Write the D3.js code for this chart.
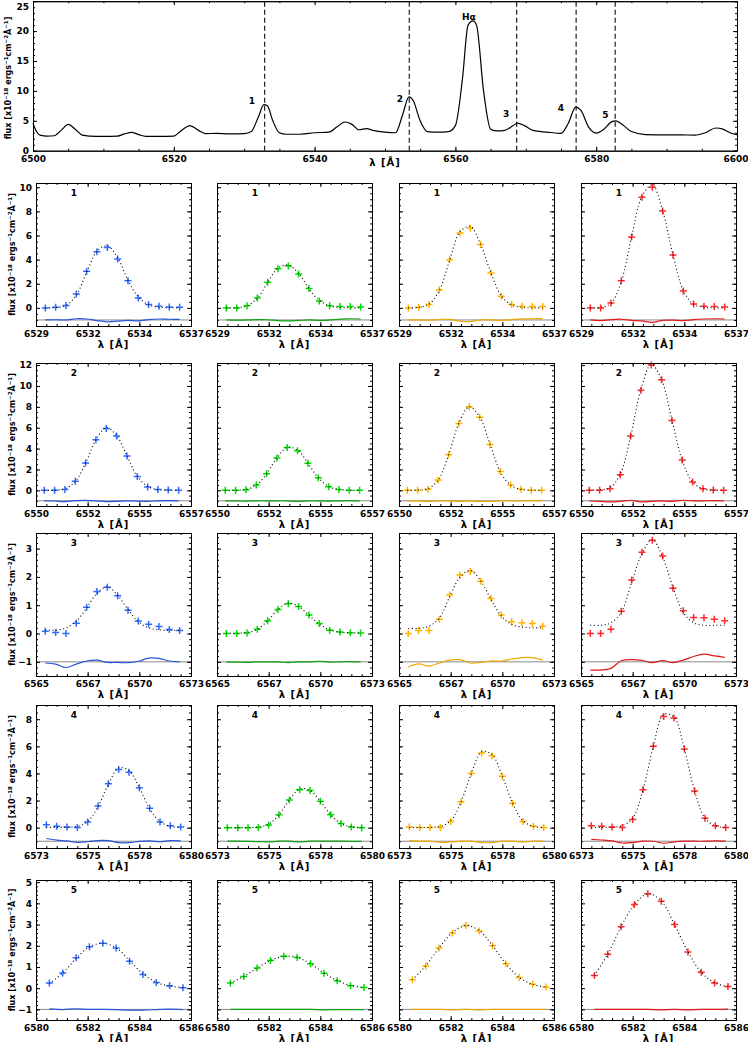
<!DOCTYPE html>
<html>
<head>
<meta charset="utf-8">
<script src="https://cdn.jsdelivr.net/npm/d3@7"></script>
<style>
body { margin: 0; background: #fff; }
text { font-family: "DejaVu Sans", sans-serif; font-weight: bold; font-size: 9px; fill: #000; }
.axis path, .axis line { stroke: #000; stroke-width: 1; }
</style>
</head>
<body>
<script>
// ---- full spectrum (top panel) ----
var specWave = [6500, 6500.5, 6501, 6502, 6503, 6504, 6505, 6506, 6507, 6508, 6510, 6512, 6513, 6514, 6515, 6516,
  6518, 6520, 6521, 6522.3, 6523.5, 6524.5, 6526, 6528, 6530, 6531, 6532, 6532.8, 6533.3, 6534, 6535, 6536,
  6538, 6540, 6542, 6543.2, 6544.3, 6545.3, 6546.3, 6547.4, 6548.3, 6550, 6551.5, 6552.5, 6553.4, 6554, 6555,
  6556, 6557.5, 6559, 6560, 6561, 6561.8, 6562.5, 6563, 6564, 6565, 6566, 6567, 6568.2, 6568.8, 6569.8, 6571,
  6573, 6575, 6576, 6577.1, 6577.8, 6579, 6580, 6581, 6582.3, 6582.8, 6583.8, 6585, 6587, 6590, 6592, 6594,
  6595.5, 6597, 6598, 6599, 6600];
var specFlux = [4.6, 3.2, 2.6, 2.45, 2.5, 3.4, 4.4, 3.6, 2.6, 2.45, 2.4, 2.45, 2.8, 3.05, 2.7, 2.4,
  2.4, 2.45, 3.3, 4.2, 3.4, 2.85, 2.9, 2.8, 2.85, 3.2, 5.6, 7.7, 7.5, 5.2, 3.0, 2.75,
  2.75, 3.0, 3.1, 4.0, 4.8, 4.4, 3.5, 3.7, 3.4, 3.1, 3.0, 6.0, 9.0, 8.4, 5.0,
  3.2, 3.1, 3.2, 4.2, 12.0, 21.0, 21.7, 21.0, 10.0, 3.6, 3.3, 3.4, 4.2, 4.6, 4.2, 3.4,
  3.1, 2.9, 4.5, 7.3, 6.8, 3.8, 2.95, 3.5, 4.9, 5.0, 4.3, 3.2, 2.7, 2.65, 2.65, 2.6,
  3.0, 3.8, 3.6, 3.0, 2.7];
var markWave = [6532.9, 6553.45, 6568.7, 6577.15, 6582.7];
var markNames = ["1", "2", "H\u03b1", "3", "4", "5"];
var markLabelWave = [6531.1, 6552.1, 6561.9, 6567.2, 6575.0, 6581.3];
var markLabelFlux = [8.3, 8.6, 22.3, 6.1, 7.1, 6.0];

// ---- line 1 ----
var line1Wave = [6529.75, 6530.25, 6530.75, 6531.25, 6531.75, 6532.25, 6532.75, 6533.25, 6533.75, 6534.25, 6534.75, 6535.25, 6535.75, 6536.25];
var line1Flux = [
  [0, 0.05, 0.2, 1.15, 3.03, 4.65, 5.0, 4.05, 2.26, 0.83, 0.28, 0.14, 0.08, 0.05],
  [0, 0, 0.17, 0.83, 2.12, 3.25, 3.47, 2.81, 1.6, 0.58, 0.17, 0.11, 0.11, 0.08],
  [0, 0.05, 0.28, 1.49, 4.0, 6.2, 6.61, 5.26, 2.9, 0.96, 0.28, 0.14, 0.11, 0.11],
  [0, 0, 0.41, 2.26, 5.87, 9.17, 10.0, 8.02, 4.38, 1.4, 0.33, 0.14, 0.11, 0.08]];
var line1Fit = [
  [0, 0.03, 0.2, 1.05, 2.95, 4.7, 5.15, 4.15, 2.3, 0.9, 0.25, 0.06, 0.02, 0],
  [0, 0.02, 0.17, 0.8, 2.1, 3.3, 3.55, 2.85, 1.6, 0.62, 0.17, 0.04, 0.01, 0],
  [0, 0.04, 0.3, 1.45, 3.95, 6.3, 6.75, 5.25, 2.9, 1.0, 0.25, 0.05, 0.01, 0],
  [0, 0.05, 0.38, 2.2, 5.9, 9.25, 10.2, 8.05, 4.4, 1.45, 0.3, 0.06, 0.01, 0]];
var line1XRange = [6529.3, 6536.8];
var line1XLabels = ["6529", "6532", "6534", "6537"];
var line1YRange = [-1.5, 10.35];
var line1YTicks = [0, 2, 4, 6, 8, 10];

// ---- line 2 ----
var line2Wave = [6550.3, 6550.8, 6551.3, 6551.8, 6552.3, 6552.8, 6553.3, 6553.8, 6554.3, 6554.8, 6555.3, 6555.8, 6556.3, 6556.8];
var line2Flux = [
  [0, 0, 0.07, 0.86, 2.63, 4.84, 5.92, 5.2, 3.29, 1.32, 0.33, 0.07, 0.03, 0],
  [0, 0, 0.05, 0.5, 1.6, 3.1, 4.1, 3.8, 2.6, 1.2, 0.35, 0.08, 0.02, 0],
  [0, 0, 0.1, 1.0, 3.4, 6.4, 8.0, 7.0, 4.4, 1.8, 0.5, 0.1, 0.02, 0],
  [0, 0, 0.15, 1.5, 5.2, 9.6, 12.0, 10.6, 6.7, 2.9, 0.8, 0.15, 0.03, 0]];
var line2Fit = [
  [0, 0.02, 0.15, 0.85, 2.6, 4.85, 6.0, 5.25, 3.3, 1.35, 0.38, 0.07, 0.01, 0],
  [0, 0.01, 0.08, 0.5, 1.6, 3.1, 4.1, 3.85, 2.6, 1.2, 0.38, 0.08, 0.01, 0],
  [0, 0.02, 0.15, 1.0, 3.4, 6.45, 8.0, 7.05, 4.45, 1.8, 0.5, 0.1, 0.01, 0],
  [0.02, 0.05, 0.25, 1.55, 5.15, 9.7, 12.05, 10.6, 6.75, 2.85, 0.8, 0.15, 0.02, 0]];
var line2XRange = [6549.9, 6557.4];
var line2XLabels = ["6550", "6552", "6555", "6557"];
var line2YRange = [-1.5, 12.2];
var line2YTicks = [0, 2, 4, 6, 8, 10, 12];

// ---- line 3 ----
var line3Wave = [6565.55, 6566.05, 6566.55, 6567.05, 6567.55, 6568.05, 6568.55, 6569.05, 6569.55, 6570.05, 6570.55, 6571.05, 6571.55, 6572.05];
var line3Flux = [
  [0.08, 0.04, 0, 0.36, 0.93, 1.48, 1.63, 1.33, 0.82, 0.44, 0.33, 0.25, 0.14, 0.11],
  [0, 0, 0.02, 0.15, 0.45, 0.85, 1.05, 0.95, 0.65, 0.35, 0.12, 0.05, 0.03, 0.02],
  [0, 0.11, 0.11, 0.5, 1.36, 2.07, 2.19, 1.85, 1.24, 0.65, 0.42, 0.38, 0.35, 0.26],
  [0, 0, 0.15, 0.79, 1.89, 2.87, 3.29, 2.74, 1.6, 0.8, 0.57, 0.56, 0.5, 0.45]];
var line3Fit = [
  [0.12, 0.12, 0.2, 0.44, 0.9, 1.42, 1.65, 1.35, 0.85, 0.42, 0.2, 0.13, 0.11, 0.11],
  [0.01, 0.01, 0.04, 0.15, 0.45, 0.85, 1.08, 0.95, 0.65, 0.33, 0.13, 0.05, 0.02, 0.02],
  [0.18, 0.18, 0.26, 0.54, 1.3, 1.99, 2.23, 1.87, 1.21, 0.62, 0.32, 0.23, 0.2, 0.2],
  [0.29, 0.29, 0.38, 0.75, 1.81, 2.82, 3.32, 2.7, 1.63, 0.74, 0.38, 0.29, 0.29, 0.29]];
var line3XRange = [6565.1, 6572.6];
var line3XLabels = ["6565", "6567", "6570", "6573"];
var line3YRange = [-1.5, 3.55];
var line3YTicks = [-1, 0, 1, 2, 3];

// ---- line 4 ----
var line4Wave = [6573.3, 6573.8, 6574.3, 6574.8, 6575.3, 6575.8, 6576.3, 6576.8, 6577.3, 6577.8, 6578.3, 6578.8, 6579.3, 6579.8];
var line4Flux = [
  [0.22, 0.1, 0.05, 0.02, 0.41, 1.6, 3.24, 4.3, 4.09, 2.94, 1.43, 0.41, 0.15, 0.05],
  [0, 0, 0, 0.02, 0.2, 0.95, 2.05, 2.8, 2.75, 1.95, 0.95, 0.3, 0.05, 0],
  [0.05, 0.02, 0.02, 0.02, 0.45, 1.9, 4.0, 5.5, 5.3, 3.8, 1.8, 0.45, 0.1, 0.02],
  [0.15, 0.1, 0.05, 0.02, 0.6, 2.8, 6.0, 8.2, 8.1, 5.8, 2.7, 0.7, 0.15, 0.02]];
var line4Fit = [
  [0.02, 0.02, 0.03, 0.1, 0.45, 1.55, 3.2, 4.4, 4.2, 2.95, 1.4, 0.45, 0.1, 0.02],
  [0, 0, 0.01, 0.05, 0.25, 0.95, 2.05, 2.85, 2.75, 1.95, 0.95, 0.3, 0.06, 0.01],
  [0.01, 0.01, 0.02, 0.1, 0.5, 1.9, 4.0, 5.6, 5.4, 3.8, 1.8, 0.5, 0.1, 0.01],
  [0.01, 0.01, 0.03, 0.15, 0.7, 2.8, 6.0, 8.35, 8.15, 5.8, 2.7, 0.7, 0.13, 0.02]];
var line4XRange = [6572.8, 6580.3];
var line4XLabels = ["6573", "6575", "6578", "6580"];
var line4YRange = [-1.5, 9.05];
var line4YTicks = [0, 2, 4, 6, 8];

// ---- line 5 ----
var line5Wave = [6580.6, 6581.1, 6581.6, 6582.1, 6582.6, 6583.1, 6583.6, 6584.1, 6584.6, 6585.1, 6585.6];
var line5Flux = [
  [0.24, 0.71, 1.43, 1.95, 2.12, 1.89, 1.27, 0.65, 0.27, 0.11, 0.02],
  [0.25, 0.55, 0.95, 1.3, 1.5, 1.45, 1.15, 0.7, 0.35, 0.12, 0.03],
  [0.4, 1.05, 1.9, 2.6, 2.95, 2.7, 2.0, 1.15, 0.5, 0.18, 0.05],
  [0.6, 1.6, 2.9, 3.95, 4.45, 4.1, 3.0, 1.7, 0.75, 0.25, 0.08]];
var line5Fit = [
  [0.22, 0.72, 1.4, 1.95, 2.12, 1.9, 1.3, 0.68, 0.28, 0.1, 0.03],
  [0.25, 0.55, 0.95, 1.3, 1.5, 1.45, 1.15, 0.72, 0.36, 0.13, 0.04],
  [0.4, 1.05, 1.9, 2.62, 2.95, 2.72, 2.0, 1.15, 0.5, 0.18, 0.05],
  [0.6, 1.6, 2.9, 3.95, 4.45, 4.12, 3.0, 1.72, 0.75, 0.25, 0.07]];
var line5XRange = [6580.1, 6585.9];
var line5XLabels = ["6580", "6582", "6584", "6586"];
var line5YRange = [-1.5, 5.1];
var line5YTicks = [-1, 0, 1, 2, 3, 4, 5];

var pointColors = ["#2f6bff", "#00dd00", "#ffb300", "#ff2a2a"];
var residColors = ["#2455d8", "#0ea00e", "#f0a800", "#e01818"];

var lines = [
  {name: "1", wave: line1Wave, flux: line1Flux, fit: line1Fit, xr: line1XRange, xl: line1XLabels, yr: line1YRange, yt: line1YTicks},
  {name: "2", wave: line2Wave, flux: line2Flux, fit: line2Fit, xr: line2XRange, xl: line2XLabels, yr: line2YRange, yt: line2YTicks},
  {name: "3", wave: line3Wave, flux: line3Flux, fit: line3Fit, xr: line3XRange, xl: line3XLabels, yr: line3YRange, yt: line3YTicks},
  {name: "4", wave: line4Wave, flux: line4Flux, fit: line4Fit, xr: line4XRange, xl: line4XLabels, yr: line4YRange, yt: line4YTicks},
  {name: "5", wave: line5Wave, flux: line5Flux, fit: line5Fit, xr: line5XRange, xl: line5XLabels, yr: line5YRange, yt: line5YTicks}
];

var svg = d3.select("body").append("svg")
  .attr("width", 748)
  .attr("height", 1042);

// flux [x10^-18 ergs^-1 cm^-2 A^-1] title, rotated
var yTitle = function(g, cx, cy) {
  var t = g.append("text")
    .attr("transform", "translate(" + cx + "," + cy + ") rotate(-90)")
    .attr("text-anchor", "middle")
    .attr("dy", "0.35em")
    .style("font-size", "8px");
  var parts = [["flux [x10", 0], ["\u221218", 1], [" ergs", 0], ["\u22121", 1], ["cm", 0], ["\u22122", 1], ["\u00c5", 0], ["\u22121", 1], ["]", 0]];
  var up = false;
  parts.forEach(function(p) {
    var s = t.append("tspan").text(p[0]);
    if (p[1] && !up) { s.attr("dy", -3).style("font-size", "5.5px"); up = true; }
    else if (p[1]) { s.style("font-size", "5.5px"); }
    else if (up) { s.attr("dy", 3); up = false; }
  });
};

// box with inward major + minor ticks on all four sides
var frame = function(g, x, y, o) {
  var xr = x.range(), yr = y.range();
  var add = function(axis, tx, ty) {
    var a = g.append("g").attr("class", "axis").attr("transform", "translate(" + tx + "," + ty + ")").call(axis);
    a.attr("font-family", null).attr("font-size", null);
    return a;
  };
  add(d3.axisBottom(x).tickValues(o.xMinor).tickSize(-2).tickSizeOuter(0).tickFormat(""), 0, yr[0]);
  add(d3.axisTop(x).tickValues(o.xMinor).tickSize(-2).tickSizeOuter(0).tickFormat(""), 0, yr[1]);
  add(d3.axisLeft(y).tickValues(o.yMinor).tickSize(-2).tickSizeOuter(0).tickFormat(""), xr[0], 0);
  add(d3.axisRight(y).tickValues(o.yMinor).tickSize(-2).tickSizeOuter(0).tickFormat(""), xr[1], 0);
  add(d3.axisTop(x).tickValues(o.xMajor).tickSize(-4).tickSizeOuter(0).tickFormat(""), 0, yr[1]);
  add(d3.axisRight(y).tickValues(o.yMajor).tickSize(-4).tickSizeOuter(0).tickFormat(""), xr[1], 0);
  var xa = add(d3.axisBottom(x).tickValues(o.xMajor).tickSize(-4).tickSizeOuter(0).tickPadding(5)
    .tickFormat(o.xFormat), 0, yr[0]);
  var ya = add(d3.axisLeft(y).tickValues(o.yMajor).tickSize(-4).tickSizeOuter(0).tickPadding(4)
    .tickFormat(o.yFormat || ""), xr[0], 0);
  return [xa, ya];
};

// ---- top panel ----
var topPanel = svg.append("g");
var tx = d3.scaleLinear().domain([6500, 6600]).range([33, 737]);
var ty = d3.scaleLinear().domain([0, 25]).range([150.7, 1.2]);

topPanel.selectAll(".mark")
  .data(markWave)
  .enter()
    .append("line")
    .attr("x1", (d) => tx(d))
    .attr("x2", (d) => tx(d))
    .attr("y1", ty.range()[0])
    .attr("y2", ty.range()[1])
    .attr("stroke", "#222")
    .attr("stroke-width", 1.2)
    .attr("stroke-dasharray", "5,3");

topPanel.append("path")
  .datum(d3.zip(specWave, specFlux))
  .attr("fill", "none")
  .attr("stroke", "#000")
  .attr("stroke-width", 1.2)
  .attr("d", d3.line().x((d) => tx(d[0])).y((d) => ty(d[1])).curve(d3.curveMonotoneX));

var topAxes = frame(topPanel, tx, ty, {
  xMajor: d3.range(6500, 6601, 20),
  xMinor: d3.range(6500, 6601, 5),
  yMajor: d3.range(0, 26, 5),
  yMinor: d3.range(0, 26, 1),
  xFormat: d3.format("d"),
  yFormat: d3.format("d")
});
// keep the edge labels inside the page
topAxes[0].selectAll(".tick text").filter((d) => d === 6600).attr("dx", -1.5);
topAxes[1].selectAll(".tick text").filter((d) => d === 25).attr("dy", "0.9em");

topPanel.selectAll(".mlabel")
  .data(markNames)
  .enter()
    .append("text")
    .attr("x", (d, i) => tx(markLabelWave[i]))
    .attr("y", (d, i) => ty(markLabelFlux[i]))
    .attr("dy", "0.35em")
    .attr("text-anchor", "middle")
    .text((d) => d);

topPanel.append("text")
  .attr("x", 385).attr("y", 166)
  .attr("text-anchor", "middle")
  .style("font-size", "10px")
  .style("letter-spacing", "1px")
  .text("\u03bb [\u00c5]");
yTitle(topPanel, 8, 78);

// ---- line panels ----
var colLeft = [36, 217, 399, 581];
var rowTop = [183, 363, 533, 705, 880];
var rowH = [143, 143, 143, 143, 140];
var panelW = 155;

lines.forEach(function(L, r) {
  var dx = L.xr[1] - L.xr[0];
  var xMajor = [0, 1, 2, 3].map((k) => L.xr[0] + k * dx / 3);
  var xMinor = d3.range(16).map((k) => L.xr[0] + k * dx / 15);
  var ystep = L.yt[1] - L.yt[0];
  var ydiv = ystep > 1 ? 4 : 5;
  var yMinor = d3.range(Math.ceil(L.yr[0] * ydiv / ystep), Math.floor(L.yr[1] * ydiv / ystep) + 1)
    .map((k) => k * ystep / ydiv);
  var bottom = rowTop[r] + rowH[r];

  L.flux.forEach(function(flux, c) {
    var g = svg.append("g");
    var x = d3.scaleLinear().domain(L.xr).range([colLeft[c], colLeft[c] + panelW]);
    var y = d3.scaleLinear().domain(L.yr).range([bottom, rowTop[r]]);
    var fit = L.fit[c];

    // zero level of the residuals
    g.append("line")
      .attr("x1", x.range()[0]).attr("x2", x.range()[1])
      .attr("y1", y(-1)).attr("y2", y(-1))
      .attr("stroke", "#8a8a8a").attr("stroke-width", 1);

    // residuals (data - fit), shifted to -1
    g.append("path")
      .datum(L.wave.map((w, i) => [w, flux[i] - fit[i] - 1]))
      .attr("fill", "none")
      .attr("stroke", residColors[c])
      .attr("stroke-width", 1.2)
      .attr("d", d3.line().x((d) => x(d[0])).y((d) => y(d[1])).curve(d3.curveCatmullRom));

    // crosses
    g.selectAll(".pt")
      .data(L.wave)
      .enter()
        .append("path")
        .attr("transform", (d, i) => "translate(" + x(d) + "," + y(flux[i]) + ")")
        .attr("d", "M-3.5,0H3.5M0,-3.5V3.5")
        .attr("stroke", pointColors[c])
        .attr("stroke-width", 1.5);

    // gaussian fit, dotted
    g.append("path")
      .datum(L.wave.map((w, i) => [w, fit[i]]))
      .attr("fill", "none")
      .attr("stroke", "#000")
      .attr("stroke-width", 1.1)
      .attr("stroke-dasharray", "1,2.6")
      .attr("d", d3.line().x((d) => x(d[0])).y((d) => y(d[1])).curve(d3.curveCatmullRom));

    frame(g, x, y, {
      xMajor: xMajor,
      xMinor: xMinor,
      yMajor: L.yt,
      yMinor: yMinor,
      xFormat: (d, i) => L.xl[i],
      yFormat: c === 0 ? d3.format("d") : null
    });

    g.append("text")
      .attr("x", colLeft[c] + 38)
      .attr("y", rowTop[r] + 13)
      .attr("text-anchor", "middle")
      .text(L.name);

    g.append("text")
      .attr("x", colLeft[c] + panelW / 2)
      .attr("y", bottom + 21.5)
      .attr("text-anchor", "middle")
      .style("font-size", "10px")
      .style("letter-spacing", "1px")
      .text("\u03bb [\u00c5]");

    if (c === 0) yTitle(g, 12, rowTop[r] + rowH[r] / 2);
  });
});
</script>
</body>
</html>
